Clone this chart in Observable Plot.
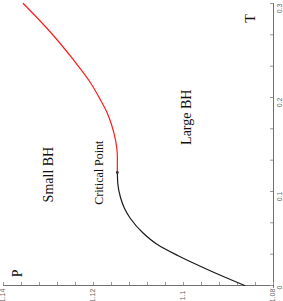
<!DOCTYPE html>
<html><head><meta charset="utf-8">
<script src="https://cdn.jsdelivr.net/npm/d3@7"></script>
<script src="https://cdn.jsdelivr.net/npm/@observablehq/plot@0.6"></script>
<style>body{margin:0;background:#fff}</style>
</head><body><div id="chart"></div>
<script>
// Small-BH branch (black) : pressure P vs temperature T
const smallP = [1.0864, 1.0942, 1.1013, 1.1058, 1.1091, 1.1118, 1.1131, 1.1140, 1.1146, 1.1147];
const smallT = [0.0000, 0.0160, 0.0319, 0.0436, 0.0564, 0.0713, 0.0819, 0.0936, 0.1085, 0.1202];
// Large-BH branch (red)
const largeP = [1.1147, 1.1147, 1.1151, 1.1160, 1.1170, 1.1185, 1.1207, 1.1247, 1.1293, 1.1356];
const largeT = [0.1202, 0.1373, 0.1543, 0.1713, 0.1841, 0.1979, 0.2160, 0.2415, 0.2681, 0.3000];
const critical = {P: 1.1147, T: 0.1202};

const pTicks = [1.14, 1.12, 1.10, 1.08];
const pTickLabels = ["1.14", "1.12", "1.1", "1.08"];
const pMinor = d3.range(0, 16).map(i => +(1.08 + i * 0.004).toFixed(4));
const tTicks = [0, 0.1, 0.2, 0.3];
const tTickLabels = ["0", "0.1", "0.2", "0.3"];
const tMinor = d3.range(0, 10).map(i => +(i * 0.1 / 3).toFixed(4));

const labelText = ["Small BH", "Critical Point", "Large BH", "P", "T"];
const labelP = [1.1300, 1.1187, 1.0993, 1.1369, 1.0852];
const labelT = [0.118, 0.120, 0.179, 0.0128, 0.284];
const labelSize = [14, 12, 14, 14, 14];

const small = smallP.map((p, i) => ({P: p, T: smallT[i]}));
const large = largeP.map((p, i) => ({P: p, T: largeT[i]}));
const labels = labelText.map((t, i) => ({text: t, P: labelP[i], T: labelT[i], size: labelSize[i]}));

const W = 283, H = 301, mt = 3, mb = 16, ml = 3, mr = 10;
const chart = Plot.plot({
  width: W, height: H,
  marginTop: mt, marginBottom: mb, marginLeft: ml, marginRight: mr,
  style: {fontFamily: "Liberation Sans", background: "#fff"},
  x: {domain: [1.14, 1.08], axis: null},
  y: {domain: [0, 0.3], axis: null},
  marks: [
    Plot.ruleY([0], {stroke: "#707070", strokeWidth: 1}),
    Plot.ruleX([1.08], {stroke: "#707070", strokeWidth: 1, y1: -0.003, y2: 0.3}),
    Plot.tickX(pMinor, {x: d => d, stroke: "#999", insetTop: H - mt - mb - 3}),
    Plot.tickY(tMinor, {y: d => d, stroke: "#999", insetLeft: W - ml - mr - 3}),
    Plot.text(pTicks, {x: d => d, text: (d, i) => pTickLabels[i], frameAnchor: "bottom", dy: 10, dx: 1, rotate: -90, fontSize: 7, fill: "#666"}),
    Plot.text(tTicks, {y: d => d, text: (d, i) => tTickLabels[i], frameAnchor: "right", dx: 6, rotate: -90, fontSize: 7, fill: "#666"}),
    Plot.line(small, {x: "P", y: "T", stroke: "#1a1a1a", strokeWidth: 1.2, curve: "monotone-y"}),
    Plot.line(large, {x: "P", y: "T", stroke: "#ff1a1a", strokeWidth: 1.2, curve: "monotone-y"}),
    Plot.dot([critical], {x: "P", y: "T", r: 1.4, fill: "#333"}),
    Plot.text(labels, {x: "P", y: "T", text: "text", fontSize: d => d.size, rotate: -90, fontFamily: "Liberation Serif", fill: "#111"})
  ]
});
document.getElementById("chart").appendChild(chart);
</script>
</body></html>
